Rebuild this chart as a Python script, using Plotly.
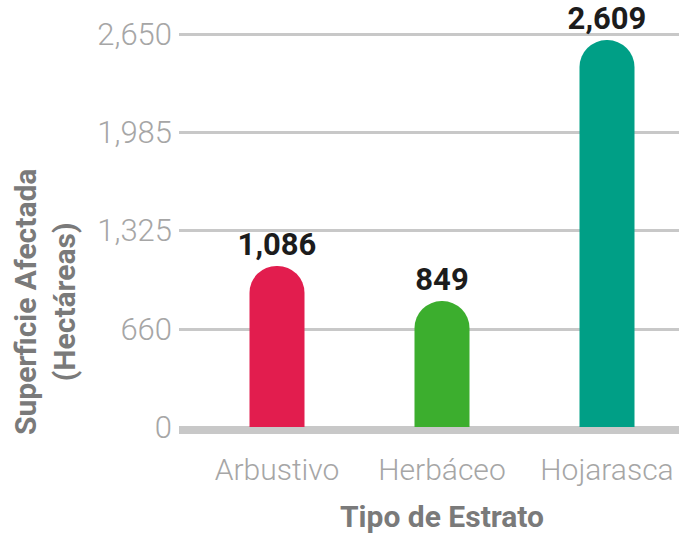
import plotly.graph_objects as go

# Data
estratos = ["Arbustivo", "Herbáceo", "Hojarasca"]
superficie = [1086, 849, 2609]
colores = ["#E21D4E", "#3CAE2E", "#009F86"]
y_tick_vals = [0, 660, 1325, 1985, 2650]
y_tick_text = ["0", "660", "1,325", "1,985", "2,650"]

# Canvas and plot-area geometry (pixels)
W, H = 679, 533
m_left, m_right, m_top, m_bottom = 179, 0, 5, 93
zero_px = 427            # vertical pixel of the value 0
px_per_unit = 0.1483
plot_bottom = H - m_bottom
y_max = (zero_px - m_top) / px_per_unit
y_min = -(plot_bottom - zero_px) / px_per_unit

cat_step = 165           # pixels between category centres
first_center = 277
x_min = -(first_center - m_left) / cat_step
x_max = (len(estratos) - 1) + (W - m_right - (first_center + cat_step * (len(estratos) - 1))) / cat_step

GRID = "#C8C8C8"
TICK_GRAY = "#A6A6A6"
TITLE_GRAY = "#7A7A7A"
FONT = "Roboto"

fig = go.Figure()
fig.add_trace(go.Bar(
    x=estratos,
    y=superficie,
    marker=dict(color=colores, cornerradius="50%", line=dict(width=0)),
    width=55 / cat_step,
    texttemplate="%{y:,}",
    textposition="outside",
    constraintext="none",
    cliponaxis=False,
    textfont=dict(family=FONT, size=31, color="#1C1C1C", weight="bold"),
    hoverinfo="skip",
))

# Thick baseline under the bars
fig.add_shape(
    type="rect", xref="paper", x0=0, x1=1,
    yref="y", ysizemode="pixel", yanchor=0, y0=0, y1=-7,
    fillcolor=GRID, line=dict(width=0), layer="above",
)

# Axis titles
fig.add_annotation(
    text="<b>Superficie Afectada<br>(Hectáreas)</b>",
    textangle=-90, xref="paper", yref="paper",
    x=(45 - m_left) / (W - m_left - m_right),
    y=(plot_bottom - 302) / (plot_bottom - m_top),
    xanchor="center", yanchor="middle", showarrow=False,
    font=dict(family=FONT, size=30, color=TITLE_GRAY),
)
fig.add_annotation(
    text="<b>Tipo de Estrato</b>",
    xref="paper", yref="paper",
    x=(442 - m_left) / (W - m_left - m_right),
    y=(plot_bottom - 516) / (plot_bottom - m_top),
    xanchor="center", yanchor="middle", showarrow=False,
    font=dict(family=FONT, size=30, color=TITLE_GRAY),
)

fig.update_layout(
    width=W, height=H,
    margin=dict(l=m_left, r=m_right, t=m_top, b=m_bottom, pad=0),
    paper_bgcolor="white", plot_bgcolor="white",
    showlegend=False,
    xaxis=dict(
        range=[x_min, x_max], showgrid=False, zeroline=False, showline=False,
        ticks="", ticklabelstandoff=9,
        tickfont=dict(family=FONT, size=30, color=TICK_GRAY, weight=300),
    ),
    yaxis=dict(
        range=[y_min, y_max], tickvals=y_tick_vals, ticktext=y_tick_text,
        showgrid=True, gridcolor=GRID, gridwidth=3,
        zeroline=False, showline=False, ticks="", ticklabelstandoff=6,
        tickfont=dict(family=FONT, size=31, color=TICK_GRAY, weight=300),
    ),
)

fig.write_html("out.html")
